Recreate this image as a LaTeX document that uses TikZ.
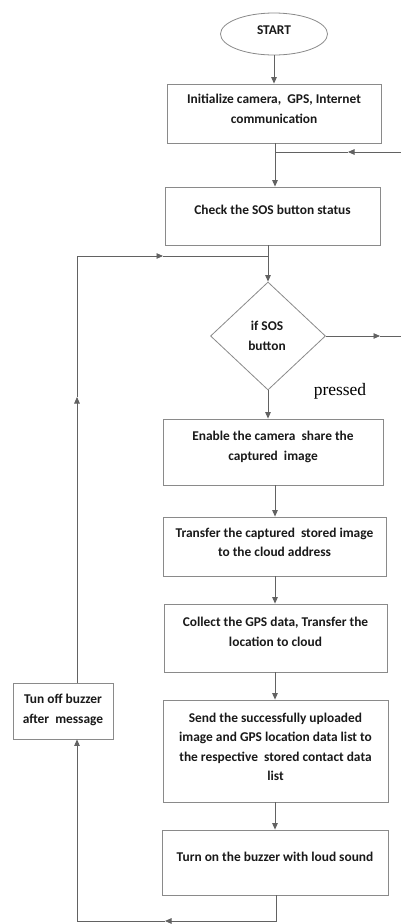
\documentclass[tikz,border=0pt]{standalone}
\usepackage{fontspec}
\setmainfont{Carlito}
\newfontfamily\pressedfont{Liberation Serif}
\usetikzlibrary{arrows.meta,shapes.geometric}
\definecolor{linegray}{HTML}{626262}
\definecolor{boxgray}{HTML}{8A8A8A}
\definecolor{txtcol}{HTML}{1A1A1A}
\begin{document}
\begin{tikzpicture}[x=1pt,y=-1pt,
  box/.style={draw=boxgray, line width=0.8pt, rectangle, inner sep=0pt},
  txt/.style={text=txtcol, align=center, font=\bfseries\fontsize{13.4}{19.5}\selectfont, inner sep=0pt},
  conn/.style={draw=linegray, line width=0.9pt},
  arr/.style={conn, -{Triangle[length=6.5pt,width=5.5pt]}}]
\useasboundingbox[fill=white] (0,0) rectangle (401,924);

% start
\node[ellipse, draw=boxgray, line width=0.8pt, minimum width=107pt, minimum height=42pt, inner sep=0pt,
  label={[txt,yshift=4pt]center:START}] (st) at (274,34) {};

% boxes
\node[box, minimum width=214pt, minimum height=59pt,
  label={[txt,yshift=4.5pt]center:{Initialize camera,\ \ GPS, Internet\\communication}}] (b1) at (274,113.5) {};
\node[box, minimum width=215pt, minimum height=58pt,
  label={[txt,yshift=6pt]center:{Check the SOS button status}}] (b2) at (272.5,216) {};
\node[diamond, draw=boxgray, line width=0.8pt, minimum width=115pt, minimum height=108pt, inner sep=0pt,
  label={[txt,xshift=-1pt]center:{if SOS\\button}}] (d) at (268,336) {};
\node[font=\pressedfont\fontsize{17.5}{20}\selectfont, text=black, inner sep=0pt] (pr) at (340,391) {pressed};
\node[box, minimum width=220pt, minimum height=66pt,
  label={[txt,yshift=5pt]center:{Enable the camera\ \ share the\\captured\ \ image}}] (b3) at (273,452) {};
\node[box, minimum width=223pt, minimum height=59pt,
  label={[txt,yshift=4pt]center:{Transfer the captured\ \ stored image\\to the cloud address}}] (b4) at (274.5,546.5) {};
\node[box, minimum width=223pt, minimum height=68pt,
  label={[txt,yshift=6pt]center:{Collect the GPS data, Transfer the\\location to cloud}}] (b5) at (275.5,638) {};
\node[box, minimum width=225pt, minimum height=102pt,
  label={[txt,yshift=4pt]center:{Send the successfully uploaded\\image and GPS location data list to\\the respective\ \ stored contact data\\list}}] (b6) at (275.5,751) {};
\node[box, minimum width=226pt, minimum height=65pt,
  label={[txt,yshift=5.5pt]center:{Turn on the buzzer with loud sound}}] (b7) at (275,862.5) {};
\node[box, minimum width=100pt, minimum height=56pt,
  label={[txt,yshift=1pt]center:{Tun off buzzer\\after\ \ message}}] (tb) at (63,711) {};

% helper coordinates
\coordinate (rin) at (401,152);
\coordinate (rmid) at (348,152);
\coordinate (j1) at (275,152);
\coordinate (j2) at (268,256);
\coordinate (lt) at (77,256);
\coordinate (lm) at (163,256);
\coordinate (lup) at (77,397);
\coordinate (dmid) at (380,336);
\coordinate (dout) at (401,336);
\coordinate (cx) at (275,0);
\coordinate (bb) at (276,921);
\coordinate (bm) at (165,921);
\coordinate (bl) at (77,921);

% connectors
\draw[arr] (st) -- (b1);
\draw[arr] (rin) -- (rmid);
\draw[conn] (rmid) -- (j1);
\draw[arr] (j1 |- b1.south) -- (j1 |- b2.north);
\draw[conn] (j2 |- b2.south) -- (j2);
\draw[arr] (j2) -- (d.north);
\draw[arr] (lt |- tb.north) -- (lup);
\draw[conn] (lup) -- (lt);
\draw[arr] (lt) -- (lm);
\draw[conn] (lm) -- (j2);
\draw[arr] (d.east) -- (dmid);
\draw[conn] (dmid) -- (dout);
\draw[arr] (d.south) -- (d.south |- b3.north);
\draw[arr] (cx |- b3.south) -- (cx |- b4.north);
\draw[arr] (cx |- b4.south) -- (cx |- b5.north);
\draw[arr] (cx |- b5.south) -- (cx |- b6.north);
\draw[arr] (cx |- b6.south) -- (cx |- b7.north);
\draw[arr] (bb |- b7.south) -- (bb) -- (bm);
\draw[arr] (bm) -- (bl) -- (lt |- tb.south);
\end{tikzpicture}
\end{document}
